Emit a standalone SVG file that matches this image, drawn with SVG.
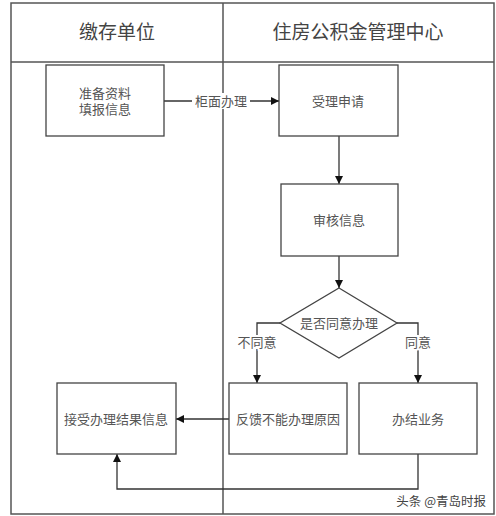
<svg xmlns="http://www.w3.org/2000/svg" width="496" height="516" viewBox="0 0 496 516">
<style>
.frame{fill:none;stroke:#555;stroke-width:1.5}
.box{fill:#fff;stroke:#444;stroke-width:1.3}
.ln{fill:none;stroke:#333;stroke-width:1.3}
.t{font-family:"Liberation Serif","Noto Sans CJK SC",serif;fill:#555;text-anchor:middle;dominant-baseline:central}
.h{font-size:19px;fill:#444}
.s{font-size:13px}
.wm{font-family:"Noto Sans CJK SC",sans-serif;font-size:12.5px;fill:#444;text-anchor:end;dominant-baseline:central}
</style>
<defs>
<marker id="ah" viewBox="0 0 10 10" refX="10" refY="5" markerWidth="8" markerHeight="8" markerUnits="userSpaceOnUse" orient="auto">
<path d="M0,0 L10,5 L0,10 Z" fill="#111"/>
</marker>
</defs>
<rect width="496" height="516" fill="#fff"/>
<g id="frame">
<rect class="frame" x="11" y="3" width="483" height="511"/>
<line class="frame" x1="11" y1="62" x2="494" y2="62"/>
<line class="frame" x1="223" y1="3" x2="223" y2="514"/>
<text class="t h" x="117" y="32">缴存单位</text>
<text class="t h" x="358" y="32">住房公积金管理中心</text>
</g>
<g id="connectors">
<line class="ln" x1="164" y1="101" x2="279" y2="101" marker-end="url(#ah)"/>
<rect x="192" y="93" width="58" height="16" fill="#fff"/>
<text class="t s" x="221" y="101">柜面办理</text>
<line class="ln" x1="339" y1="136" x2="339" y2="184" marker-end="url(#ah)"/>
<line class="ln" x1="339" y1="256" x2="339" y2="288" marker-end="url(#ah)"/>
<polyline class="ln" points="280,323 257,323 257,383" marker-end="url(#ah)"/>
<polyline class="ln" points="397,323 418,323 418,383" marker-end="url(#ah)"/>
<text class="t s" x="257" y="342" style="paint-order:stroke;stroke:#fff;stroke-width:4">不同意</text>
<text class="t s" x="418" y="342" style="paint-order:stroke;stroke:#fff;stroke-width:4">同意</text>
<line class="ln" x1="229" y1="419" x2="176" y2="419" marker-end="url(#ah)"/>
<polyline class="ln" points="418,454 418,489 117,489 117,454" marker-end="url(#ah)"/>
</g>
<g id="n1"><rect class="box" x="46" y="65" width="118" height="71"/><text class="t s" x="105" y="93">准备资料</text><text class="t s" x="105" y="109">填报信息</text></g>
<g id="n2"><rect class="box" x="279" y="65" width="119" height="71"/><text class="t s" x="338" y="101">受理申请</text></g>
<g id="n3"><rect class="box" x="281" y="184" width="117" height="72"/><text class="t s" x="339" y="220">审核信息</text></g>
<g id="n4"><polygon class="box" points="339,288 397,323 339,358 280,323"/><text class="t s" x="339" y="323">是否同意办理</text></g>
<g id="n5"><rect class="box" x="57" y="383" width="119" height="71"/><text class="t s" x="116" y="419">接受办理结果信息</text></g>
<g id="n6"><rect class="box" x="229" y="383" width="118" height="71"/><text class="t s" x="288" y="419">反馈不能办理原因</text></g>
<g id="n7"><rect class="box" x="359" y="383" width="118" height="71"/><text class="t s" x="418" y="419">办结业务</text></g>
<text class="wm" x="486" y="500">头条 @青岛时报</text>
</svg>
